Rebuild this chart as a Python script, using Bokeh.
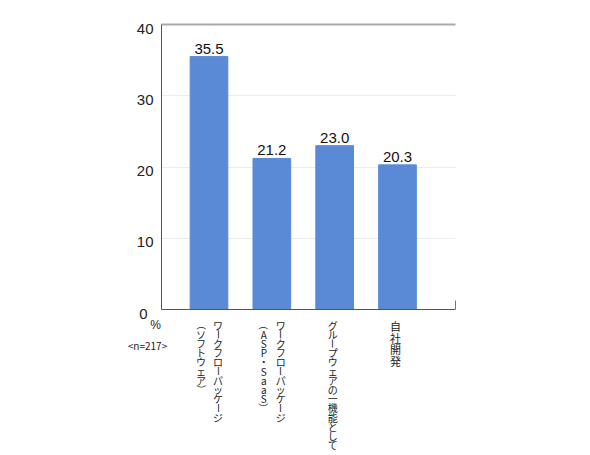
from math import pi

from bokeh.core.properties import value
from bokeh.embed import file_html
from bokeh.models import ColumnDataSource, FixedTicker, Grid, LinearAxis, Range1d
from bokeh.plotting import figure
from bokeh.resources import INLINE

# データ
label_columns = [
    ["ワークフローパッケージ", "（ソフトウェア）"],
    ["ワークフローパッケージ", "（ASP・SaaS）"],
    ["グループウェアの一機能として"],
    ["自社開発"],
]
values = [35.5, 21.2, 23.0, 20.3]
y_ticks = [0, 10, 20, 30, 40]
y_tick_labels = ["0", "10", "20", "30", "40"]
unit_label = "%"
n_label = "<n=217>"

FONT = "Noto Sans CJK JP"
NUM_FONT = "Liberation Sans"
BAR_COLOR = "#5a8ad6"

# キャンバス全体を描画領域にして、軸は固定位置に置く
W, H = 582, 455
PL, PR, PT, PB = 161, 455, 24, 309
X_START, X_END = 0.244, 4.923
px_x = (PR - PL) / (X_END - X_START)
px_y = (PB - PT) / y_ticks[-1]

p = figure(width=W, height=H, min_border=0, x_axis_type=None, y_axis_type=None,
           x_range=Range1d(X_START - PL / px_x, X_START + (W - PL) / px_x),
           y_range=Range1d(-(H - PB) / px_y, PB / px_y),
           output_backend="svg", toolbar_location=None)
p.outline_line_color = None

p.add_layout(Grid(dimension=1, ticker=FixedTicker(ticks=y_ticks[1:-1]), cross_bounds=(X_START, X_END),
                  grid_line_color="#ececec"))
p.add_layout(Grid(dimension=1, ticker=FixedTicker(ticks=y_ticks[-1:]), cross_bounds=(X_START, X_END),
                  grid_line_color="#aaaaaa", grid_line_width=2))

x = list(range(1, len(values) + 1))
src = ColumnDataSource(dict(x=x, top=values, txt=["%.1f" % v for v in values]))
p.vbar(x="x", top="top", width=0.6, source=src, color=BAR_COLOR)
p.text(x="x", y="top", text="txt", source=src, y_offset=-3,
       text_align="center", text_baseline="bottom",
       text_font=value(NUM_FONT), text_font_size="15px", text_color="#111111")

# 軸
yax = LinearAxis(fixed_location=X_START, bounds=(y_ticks[0], y_ticks[-1]), ticker=FixedTicker(ticks=[]),
                 minor_tick_line_color=None, axis_line_color="#555555")
p.add_layout(yax, "left")
xax = LinearAxis(fixed_location=0, bounds=(X_START, X_END), ticker=FixedTicker(ticks=[]),
                 axis_line_color="#555555", minor_tick_line_color=None)
p.add_layout(xax, "below")
rax = LinearAxis(fixed_location=X_END, bounds=(0, 9 / px_y), ticker=FixedTicker(ticks=[]),
                 axis_line_color="#777777", minor_tick_line_color=None)
p.add_layout(rax, "right")

# 目盛りラベル（元の図と同じく少し下にずれている）
tick_dx = [-14, -8, -8, -8, -8]
p.text(x=[X_START] * len(y_ticks), y=y_ticks, text=y_tick_labels, x_offset=tick_dx, y_offset=4,
       text_align="right", text_baseline="middle",
       text_font=value(NUM_FONT), text_font_size="15px", text_color="#222222")

# 縦書きラベル
col_offsets = {1: [-2], 2: [9, -8]}
label_pitch = [9.2, 9.2, 9.2, 11.5]
label_font = [10, 10, 10, 11]
LABEL_TOP = 11
cx, cy, ct, ca, cdx, cfs = [], [], [], [], [], []
for i, cols in enumerate(label_columns):
    for j, col in enumerate(cols):
        for k, ch in enumerate(col):
            cx.append(i + 1)
            cdx.append(col_offsets[len(cols)][j])
            cy.append(-(LABEL_TOP + label_pitch[i] * (k + 0.5)) / px_y)
            ct.append(ch)
            ca.append(-pi / 2 if ch in "ー（）" else 0)
            cfs.append("%dpx" % label_font[i])
chars = ColumnDataSource(dict(x=cx, y=cy, t=ct, a=ca, dx=cdx, fs=cfs))
p.text(x="x", y="y", text="t", angle="a", x_offset="dx", text_font_size="fs", source=chars,
       text_align="center", text_baseline="middle",
       text_font=value(FONT), text_color="#222222")

p.text(x=[X_START - 6 / px_x], y=[-15 / px_y], text=[unit_label],
       text_align="center", text_baseline="middle",
       text_font=value(NUM_FONT), text_font_size="12px", text_color="#222222")
p.text(x=[X_START - 14 / px_x], y=[-36 / px_y], text=[n_label],
       text_align="center", text_baseline="middle",
       text_font=value(FONT), text_font_size="10px", text_color="#222222")

open("out.html", "w").write(file_html(p, INLINE))
